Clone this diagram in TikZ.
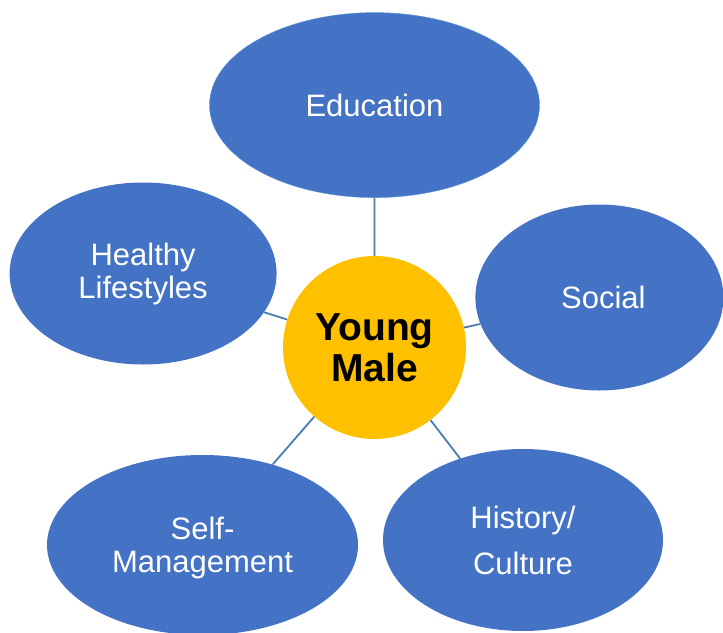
\documentclass[tikz,border=0pt]{standalone}
\usepackage{fontspec}
\setmainfont{Liberation Sans}
\usepackage{xcolor}
\definecolor{Office Blue}{HTML}{4472C4}
\definecolor{Sky Edge}{HTML}{5B9BD5}
\definecolor{Amber}{HTML}{FFC000}
\definecolor{Steel}{HTML}{4A7EAE}
\colorlet{cBlue}{Office Blue}
\colorlet{cYellow}{Amber}
\usepackage{tikz}
\usetikzlibrary{shapes.geometric, positioning}
\tikzset{
	line width = 1.5pt,
	topic/.style={
		ellipse,
		fill=cBlue,
		text=white,
		inner sep=0pt,
		align=center,
		font=\fontsize{31}{33}\selectfont
	},
	hub/.style={
		circle,
		fill=cYellow,
		inner sep=0pt,
		minimum size=183pt,
		align=center,
		font=\fontsize{39}{41}\selectfont\bfseries
	},
	link/.style={
		draw=Steel,
		line width=1.8pt
	}
}

\begin{document}
\begin{tikzpicture}[x=1pt, y=-1pt]
	\useasboundingbox (0,0) rectangle (723,632);
	\node (ym) [hub] at (374.5,347.5) {Young\\Male};
	\node (edu) [topic, draw=Sky Edge, minimum width=330pt, minimum height=185pt, above=58pt of ym] {Education};
	\node (hl) [topic, minimum width=267pt, minimum height=182pt, left=6pt of ym, yshift=74pt] {Healthy\\Lifestyles};
	\node (soc) [topic, minimum width=248pt, minimum height=186pt, right=9pt of ym, yshift=50pt] {\hspace{8pt}Social};
	\node (sm) [topic, minimum width=311pt, minimum height=180pt, text depth=0pt] at (202.5,545) {Self-\\Management};
	\node (hc) [topic, minimum width=280pt, minimum height=182pt, font=\fontsize{31}{46}\selectfont] at (523,540) {History/\\Culture};

	\draw[link] (ym) -- (edu)
		(ym) -- (hl)
		(ym) -- (soc)
		(ym) -- (sm)
		(ym) -- (hc);
\end{tikzpicture}
\end{document}
